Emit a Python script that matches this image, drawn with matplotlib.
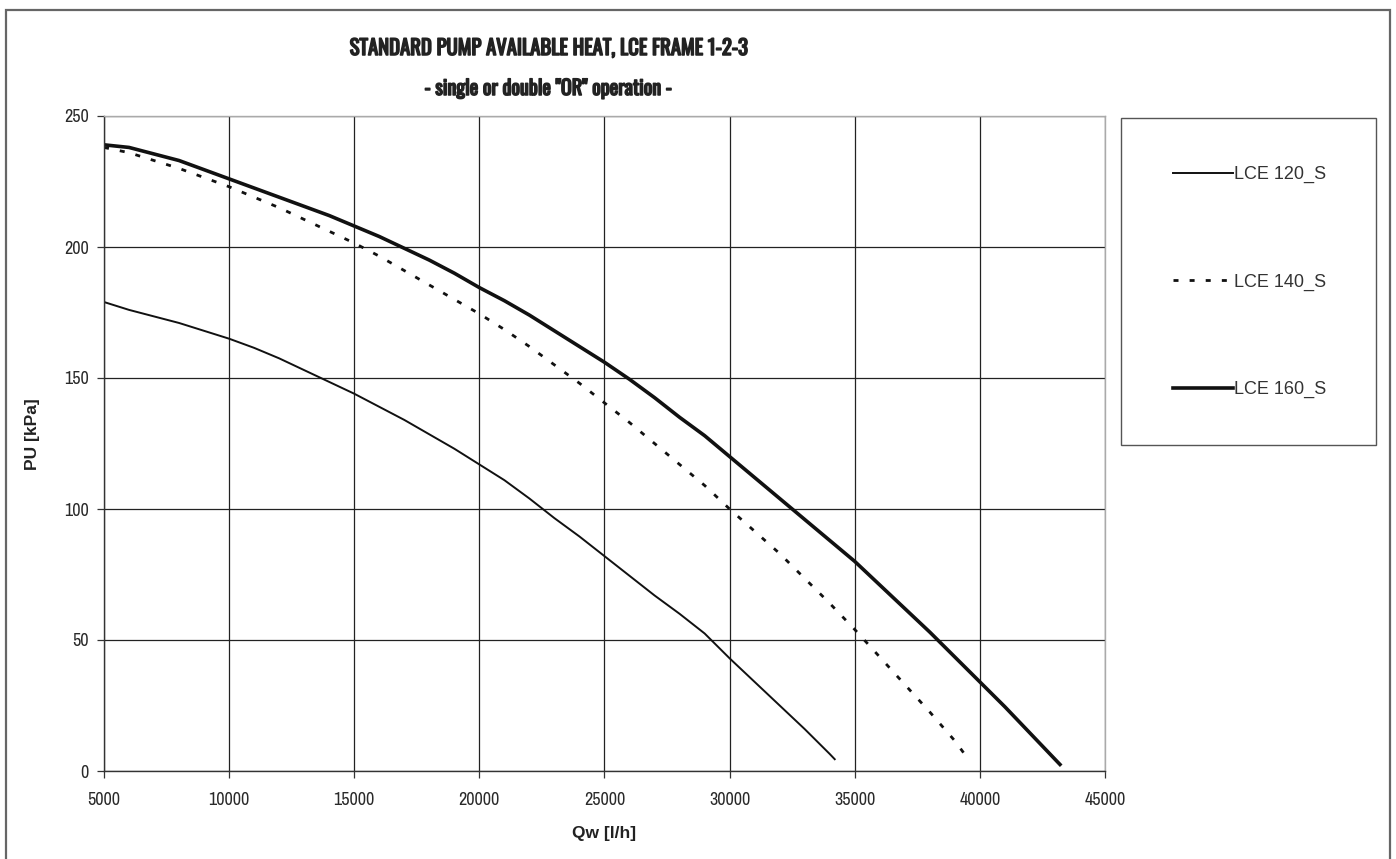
import numpy as np
import matplotlib
matplotlib.use("Agg")
import matplotlib.pyplot as plt
import matplotlib.patheffects as pe
from matplotlib.patches import Rectangle

# values
q_120 = [5000, 6000, 7000, 8000, 9000, 10000, 11000, 12000, 13000, 14000, 15000, 16000,
         17000, 18000, 19000, 20000, 21000, 22000, 23000, 24000, 25000, 26000, 27000,
         28000, 29000, 30000, 31000, 32000, 33000, 34000, 34200]
p_120 = [179, 176, 173.5, 171, 168, 165, 161.5, 157.5, 153, 148.5, 144, 139,
         134, 128.5, 123, 117, 111, 104, 96.5, 89.5, 82, 74.5, 67,
         60, 52.5, 43, 34, 25, 16, 6.5, 4.5]

q_140 = [5000, 6000, 7000, 8000, 9000, 10000, 11000, 12000, 13000, 14000, 15000, 16000,
         17000, 18000, 19000, 20000, 21000, 22000, 23000, 24000, 25000, 26000, 27000,
         28000, 29000, 30000, 31000, 32000, 33000, 34000, 35000, 36000, 37000, 38000,
         39000, 39500]
p_140 = [238, 236, 233, 230, 226.5, 223, 219, 215, 210.5, 206, 201.5, 196.5,
         191, 185.5, 180, 174.5, 168.5, 162, 155, 148, 140.5, 133, 125,
         117, 109, 100, 91.5, 83, 73.5, 64, 54, 43.5, 33, 22.5,
         11.5, 5]

q_160 = [5000, 6000, 7000, 8000, 9000, 10000, 11000, 12000, 13000, 14000, 15000, 16000,
         17000, 18000, 19000, 20000, 21000, 22000, 23000, 24000, 25000, 26000, 27000,
         28000, 29000, 30000, 31000, 32000, 33000, 34000, 35000, 36000, 37000, 38000,
         39000, 40000, 41000, 42000, 43000, 43200]
p_160 = [239, 238, 235.5, 233, 229.5, 226, 222.5, 219, 215.5, 212, 208, 204,
         199.5, 195, 190, 184.5, 179.5, 174, 168, 162, 156, 149.5, 142.5,
         135, 128, 120, 112, 104, 96, 88, 80, 71, 62, 53,
         43.5, 34, 24.5, 14.5, 4.5, 2.5]

labels = ["LCE 120_S", "LCE 140_S", "LCE 160_S"]
x_ticks = [5000, 10000, 15000, 20000, 25000, 30000, 35000, 40000, 45000]
y_ticks = [0, 50, 100, 150, 200, 250]

title1 = "STANDARD PUMP AVAILABLE HEAT, LCE FRAME 1-2-3"
title2 = '- single or double "OR" operation -'

cond = ["Oswald", "Barlow Condensed", "Fira Sans Extra Condensed", "DejaVu Sans"]
narrow = ["Archivo Narrow", "PT Sans Narrow", "Liberation Sans", "DejaVu Sans"]
plt.rcParams['font.family'] = ["Liberation Sans", "DejaVu Sans"]

W, H = 1396, 859
fig = plt.figure(figsize=(W / 100, H / 100), dpi=100)
ax = fig.add_axes([104 / W, 1 - 771 / H, (1105 - 104) / W, (771 - 116) / H])

ax.plot(q_120, p_120, color="#111111", lw=1.4, label=labels[0])
ax.plot(q_140, p_140, color="#111111", lw=2.0, dashes=(1.8, 4.0), label=labels[1])
ax.plot(q_160, p_160, color="#111111", lw=2.6, label=labels[2])

ax.set_xlim(5000, 45000)
ax.set_ylim(0, 250)
ax.set_xticks(x_ticks)
ax.set_yticks(y_ticks)
ax.grid(True, color="#222222", lw=0.9)
ax.set_axisbelow(True)

for s in ["left", "bottom"]:
    ax.spines[s].set_color("#333333")
    ax.spines[s].set_linewidth(1.0)
for s in ["top", "right"]:
    ax.spines[s].set_color("#aaaaaa")
    ax.spines[s].set_linewidth(1.0)

ax.tick_params(axis="both", direction="out", length=5, width=0.9, color="#333333",
               labelsize=13, labelcolor="#2a2a2a")
ax.tick_params(axis="x", pad=10)
ax.tick_params(axis="y", pad=6)
for t in ax.get_xticklabels() + ax.get_yticklabels():
    t.set_family(narrow)

ax.set_xlabel("Qw [l/h]", fontsize=12.5, fontweight="bold", color="#222222")
ax.set_ylabel("PU [kPa]", fontsize=12.5, fontweight="bold", color="#222222")
ax.xaxis.set_label_coords(0.5, -0.084)
ax.yaxis.set_label_coords(-0.064, 0.515)

# Oswald comes out light, so a thin stroke of the same colour makes it bold
bold = [pe.withStroke(linewidth=1.1, foreground="#222222")]
t1 = fig.text(548 / W, 1 - 48 / H, title1, ha="center", va="center", family=cond,
              fontsize=18, fontweight="bold", color="#222222", path_effects=bold)
t2 = fig.text(548 / W, 1 - 88 / H, title2, ha="center", va="center", family=cond,
              fontsize=18, fontweight="bold", color="#222222", path_effects=bold)

# fit the condensed titles to the width they take in the reference
r = fig.canvas.get_renderer()
for t, target in [(t1, 399), (t2, 248)]:
    w = t.get_window_extent(r).width
    t.set_fontsize(t.get_fontsize() * target / w)

# outer frame of the chart
fig.patches.append(Rectangle((6 / W, -0.05), (1390 - 6) / W, 1 - 10 / H + 0.05,
                             transform=fig.transFigure, fill=False,
                             edgecolor="#666666", lw=1.6))
# legend box
fig.patches.append(Rectangle((1121 / W, 1 - 445 / H), (1376 - 1121) / W, (445 - 118) / H,
                             transform=fig.transFigure, fill=False,
                             edgecolor="#555555", lw=1.0))

fig.legend(loc="center left", bbox_to_anchor=(1173 / W, 1 - 282 / H), frameon=False,
           borderpad=0, borderaxespad=0, handlelength=3.3, handletextpad=0.1,
           labelspacing=5.0,
           prop={"family": ["Liberation Sans", "DejaVu Sans"], "size": 13},
           labelcolor="#333333")

fig.savefig("out.png", dpi=100)
